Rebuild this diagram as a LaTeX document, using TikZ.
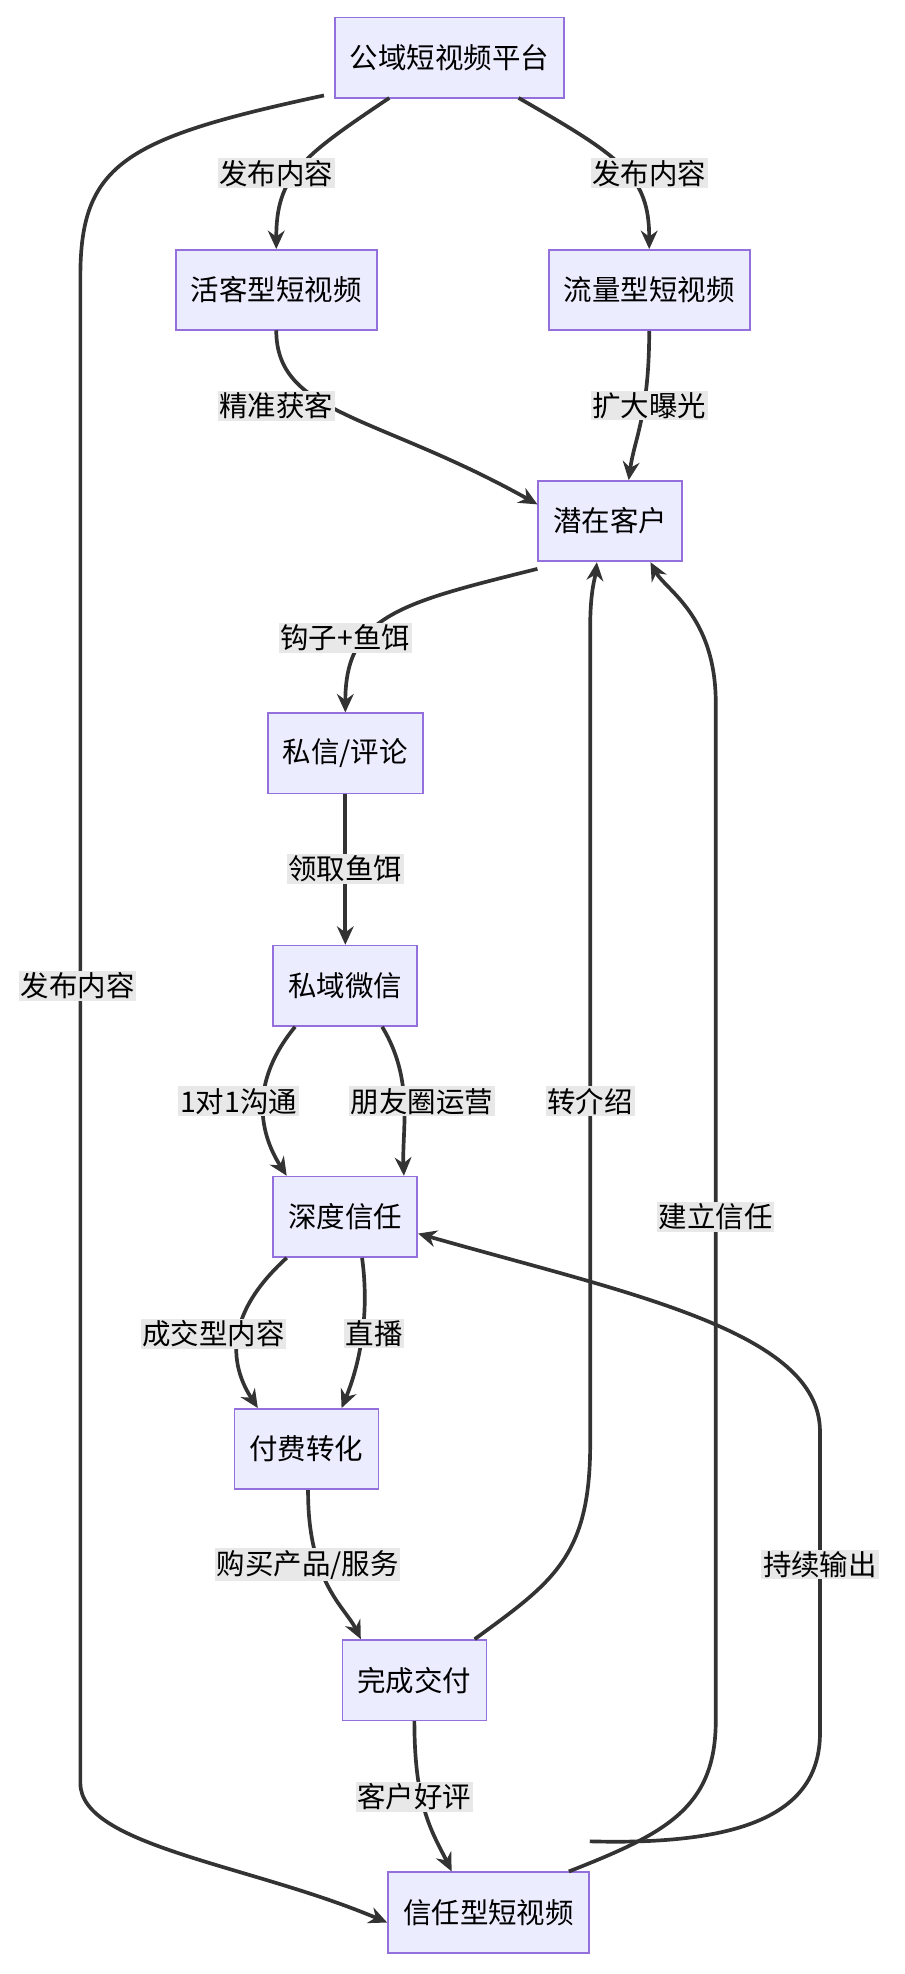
\documentclass[tikz,border=0pt]{standalone}
\usepackage{fontspec}
\setmainfont{Noto Sans CJK SC}
\usetikzlibrary{arrows.meta}
\begin{document}
\begin{tikzpicture}[x=0.75pt,y=-0.75pt,
  box/.style={draw=boxline,fill=boxfill,line width=1pt,minimum height=48pt,inner xsep=9pt,font=\fontsize{17}{20}\selectfont},
  lab/.style={fill=labbg,inner sep=1pt,font=\fontsize{17}{20}\selectfont},
  e/.style={draw=edge,line width=2.2pt,-{Stealth[length=11pt,width=10pt]}}]
\definecolor{boxline}{HTML}{9370DB}
\definecolor{boxfill}{HTML}{ECECFF}
\definecolor{edge}{HTML}{333333}
\definecolor{labbg}{HTML}{E8E8E8}
\useasboundingbox (0,0) rectangle (720,1572);
\node[box] (A) at (358,46) {公域短视频平台};
\node[box] (B) at (220,231) {活客型短视频};
\node[box] (C) at (517,231) {流量型短视频};
\node[box] (D) at (486,415) {潜在客户};
\node[box] (E) at (275,600) {私信/评论};
\node[box] (F) at (275,785) {私域微信};
\node[box] (G) at (275,969) {深度信任};
\node[box] (H) at (244,1154) {付费转化};
\node[box] (I) at (330,1338) {完成交付};
\node[box] (J) at (389,1523) {信任型短视频};
\coordinate (a1) at (310,78); \coordinate (a2) at (413,78); \coordinate (a3) at (258,76);
\path[e] (a1) .. controls (240,125) and (220,140) .. (B.north);
\path[e] (a2) .. controls (495,125) and (517,140) .. (C.north);
\path[e] (a3) .. controls (100,110) and (64,130) .. (64,220) -- (64,1420) .. controls (64,1470) and (200,1485) .. ([yshift=-6pt]J.west);
\coordinate (b1) at (220,263);
\path[e] (b1) .. controls (220,330) and (300,330) .. ([yshift=10pt]D.west);
\path[e] (C.south) .. controls (517,330) and (505,350) .. ([xshift=11pt]D.north);
\path[e] ([yshift=-4pt]D.south west) .. controls (320,480) and (275,490) .. (E.north);
\path[e] (E) -- (F);
\path[e] ([xshift=-30pt]F.south) .. controls (200,860) and (205,900) .. ([xshift=-35pt]G.north);
\path[e] ([xshift=22pt]F.south) .. controls (330,860) and (320,900) .. ([xshift=35pt]G.north);
\path[e] ([xshift=-35pt]G.south) .. controls (175,1050) and (185,1090) .. ([xshift=-29pt]H.north);
\path[e] ([xshift=10pt]G.south) .. controls (295,1050) and (285,1090) .. ([xshift=21pt]H.north);
\path[e] ([xshift=1pt]H.south) .. controls (245,1260) and (275,1280) .. ([xshift=-32pt]I.north);
\path[e] ([xshift=36pt]I.north) .. controls (440,1260) and (470,1240) .. (470,1150) -- (470,500) .. controls (470,470) and (474,460) .. ([xshift=-8pt]D.south);
\path[e] (I.south) .. controls (330,1440) and (345,1460) .. ([xshift=-22pt]J.north);
\path[e] ([xshift=48pt]J.north) .. controls (530,1460) and (570,1440) .. (570,1370) -- (570,560) .. controls (570,490) and (530,470) .. ([xshift=24pt]D.south);
\path[e] ([yshift=18pt]J.north east) .. controls (600,1470) and (653,1440) .. (653,1380) -- (653,1140) .. controls (653,1060) and (500,1030) .. ([yshift=-10pt]G.east);
\node[lab] at (220,138) {发布内容};
\node[lab] at (517,138) {发布内容};
\node[lab] at (62,785) {发布内容};
\node[lab] at (220,323) {精准获客};
\node[lab] at (517,323) {扩大曝光};
\node[lab] at (275,508) {钩子+鱼饵};
\node[lab] at (275,692) {领取鱼饵};
\node[lab] at (190,877) {1对1沟通};
\node[lab] at (336,877) {朋友圈运营};
\node[lab] at (170,1062) {成交型内容};
\node[lab] at (298,1062) {直播};
\node[lab] at (245,1246) {购买产品/服务};
\node[lab] at (470,877) {转介绍};
\node[lab] at (330,1431) {客户好评};
\node[lab] at (570,969) {建立信任};
\node[lab] at (653,1246) {持续输出};
\end{tikzpicture}
\end{document}
